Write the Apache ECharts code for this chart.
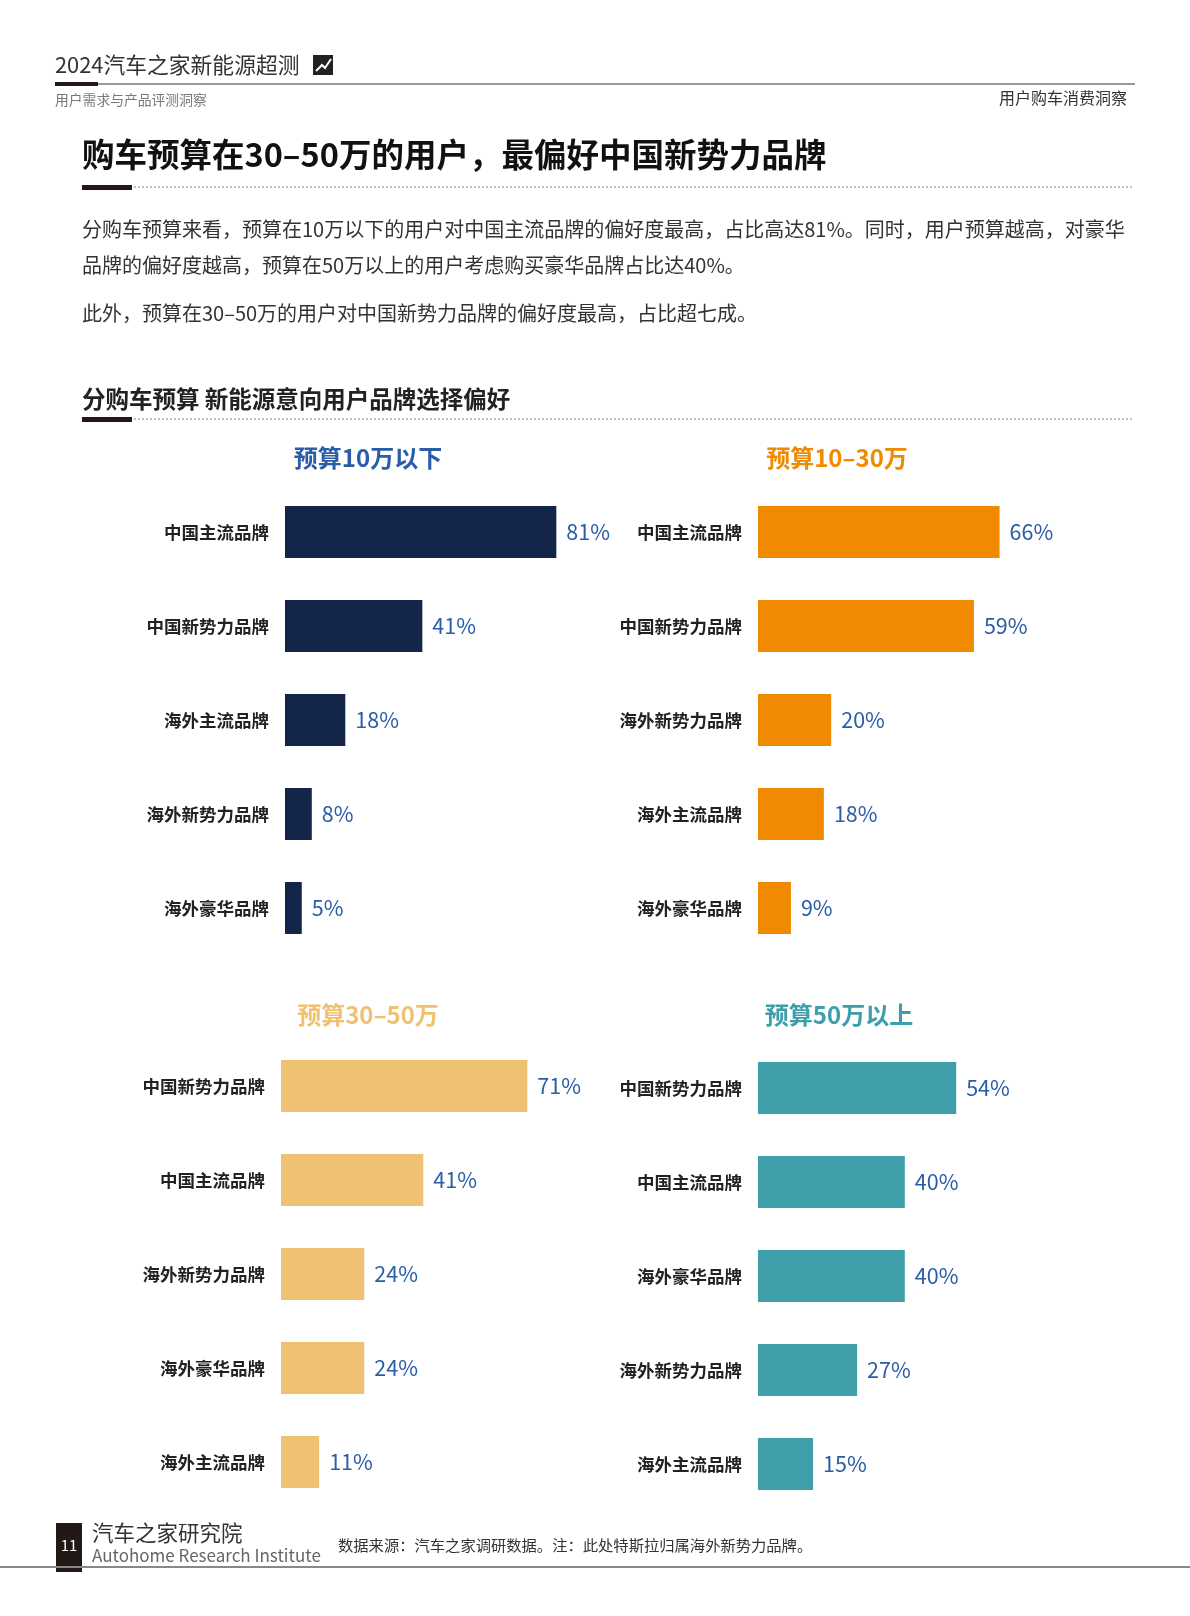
<!DOCTYPE html>
<html><head><meta charset="utf-8">
<script src="https://cdn.jsdelivr.net/npm/echarts@6/dist/echarts.min.js"></script>
<style>html,body{margin:0;padding:0;background:#fff}#c{width:1190px;height:1616px}</style>
</head><body><div id="c"></div>
<script>
const panelTitles = ['预算10万以下','预算10–30万','预算30–50万','预算50万以上'];
const cats1 = ['中国主流品牌','中国新势力品牌','海外主流品牌','海外新势力品牌','海外豪华品牌'];
const vals1 = [81,41,18,8,5];
const cats2 = ['中国主流品牌','中国新势力品牌','海外新势力品牌','海外主流品牌','海外豪华品牌'];
const vals2 = [66,59,20,18,9];
const cats3 = ['中国新势力品牌','中国主流品牌','海外新势力品牌','海外豪华品牌','海外主流品牌'];
const vals3 = [71,41,24,24,11];
const cats4 = ['中国新势力品牌','中国主流品牌','海外豪华品牌','海外新势力品牌','海外主流品牌'];
const vals4 = [54,40,40,27,15];

const F = '"Noto Sans CJK SC","Noto Sans",sans-serif';
const colors = ['#14254a','#f08a00','#efc173','#3e9eaa'];
const titleColors = ['#2a5ca8','#f08a00','#efc173','#3e9eaa'];
const panels = [
  {cats:cats1, vals:vals1, left:285, width:335, top:485, tx:368, ty:458},
  {cats:cats2, vals:vals2, left:758, width:366, top:485, tx:837, ty:458},
  {cats:cats3, vals:vals3, left:281, width:347, top:1039, tx:368, ty:1015},
  {cats:cats4, vals:vals4, left:758, width:367, top:1041, tx:839, ty:1015}
];
const chart = echarts.init(document.getElementById('c'));
const grid=[],xAxis=[],yAxis=[],series=[];
panels.forEach((p,i)=>{
  grid.push({left:p.left, top:p.top, width:p.width, height:470});
  xAxis.push({gridIndex:i,type:'value',min:0,max:100,show:false});
  yAxis.push({gridIndex:i,type:'category',data:p.cats,inverse:true,
    axisLine:{show:false},axisTick:{show:false},
    axisLabel:{margin:16,fontSize:17.5,fontWeight:'bold',color:'#222',fontFamily:F}});
  series.push({type:'bar',xAxisIndex:i,yAxisIndex:i,data:p.vals,barWidth:52,
    itemStyle:{color:colors[i]},
    label:{show:true,position:'right',distance:10,formatter:'{c}%',fontSize:21.5,color:'#2a5ca8',fontFamily:F}});
});
const t=(x,y,text,size,color,extra)=>Object.assign({type:'text',x,y,style:Object.assign({text,fontSize:size,fill:color,fontFamily:F,textVerticalAlign:'middle'},extra||{})});
const graphic=[
  t(55,65,'2024汽车之家新能源超测',21.8,'#333'),
  {type:'rect',shape:{x:313,y:55,width:20,height:20},style:{fill:'#222'}},
  {type:'polyline',shape:{points:[[316,71],[322,65],[325,68],[331,59]]},style:{stroke:'#fff',lineWidth:2,fill:null}},
  {type:'line',shape:{x1:55,y1:84,x2:1135,y2:84},style:{stroke:'#999',lineWidth:2}},
  {type:'rect',shape:{x:55,y:82,width:43,height:4},style:{fill:'#231815'}},
  t(55,100,'用户需求与产品评测洞察',13.8,'#777'),
  t(1127,98,'用户购车消费洞察',16,'#333',{textAlign:'right'}),
  t(82,155,'购车预算在30–50万的用户，最偏好中国新势力品牌',32.5,'#111',{fontWeight:'bold'}),
  {type:'line',shape:{x1:82,y1:187,x2:1132,y2:187},style:{stroke:'#aaa',lineWidth:1.5,lineDash:[2,2]}},
  {type:'rect',shape:{x:82,y:185,width:50,height:5},style:{fill:'#231815'}},
  t(82,229,'分购车预算来看，预算在10万以下的用户对中国主流品牌的偏好度最高，占比高达81%。同时，用户预算越高，对豪华',20,'#333'),
  t(82,265,'品牌的偏好度越高，预算在50万以上的用户考虑购买豪华品牌占比达40%。',20,'#333'),
  t(82,313,'此外，预算在30–50万的用户对中国新势力品牌的偏好度最高，占比超七成。',20,'#333'),
  t(82,399,'分购车预算 新能源意向用户品牌选择偏好',23.5,'#222',{fontWeight:'bold'}),
  {type:'line',shape:{x1:82,y1:419,x2:1132,y2:419},style:{stroke:'#aaa',lineWidth:1.5,lineDash:[2,2]}},
  {type:'rect',shape:{x:82,y:417,width:50,height:5},style:{fill:'#231815'}},
  {type:'rect',shape:{x:56,y:1523,width:26,height:49},style:{fill:'#231815'}},
  t(69,1545,'11',15,'#fff',{textAlign:'center'}),
  t(92,1533,'汽车之家研究院',21.5,'#333'),
  t(92,1556,'Autohome Research Institute',17,'#666'),
  t(338,1545,'数据来源：汽车之家调研数据。注：此处特斯拉归属海外新势力品牌。',15.3,'#333'),
  {type:'line',shape:{x1:0,y1:1567,x2:1190,y2:1567},style:{stroke:'#888',lineWidth:2}}
];
panels.forEach((p,i)=>graphic.push(t(p.tx,p.ty,panelTitles[i],24,titleColors[i],{textAlign:'center',fontWeight:'bold'})));
chart.setOption({animation:false,grid,xAxis,yAxis,series,graphic});
</script></body></html>
